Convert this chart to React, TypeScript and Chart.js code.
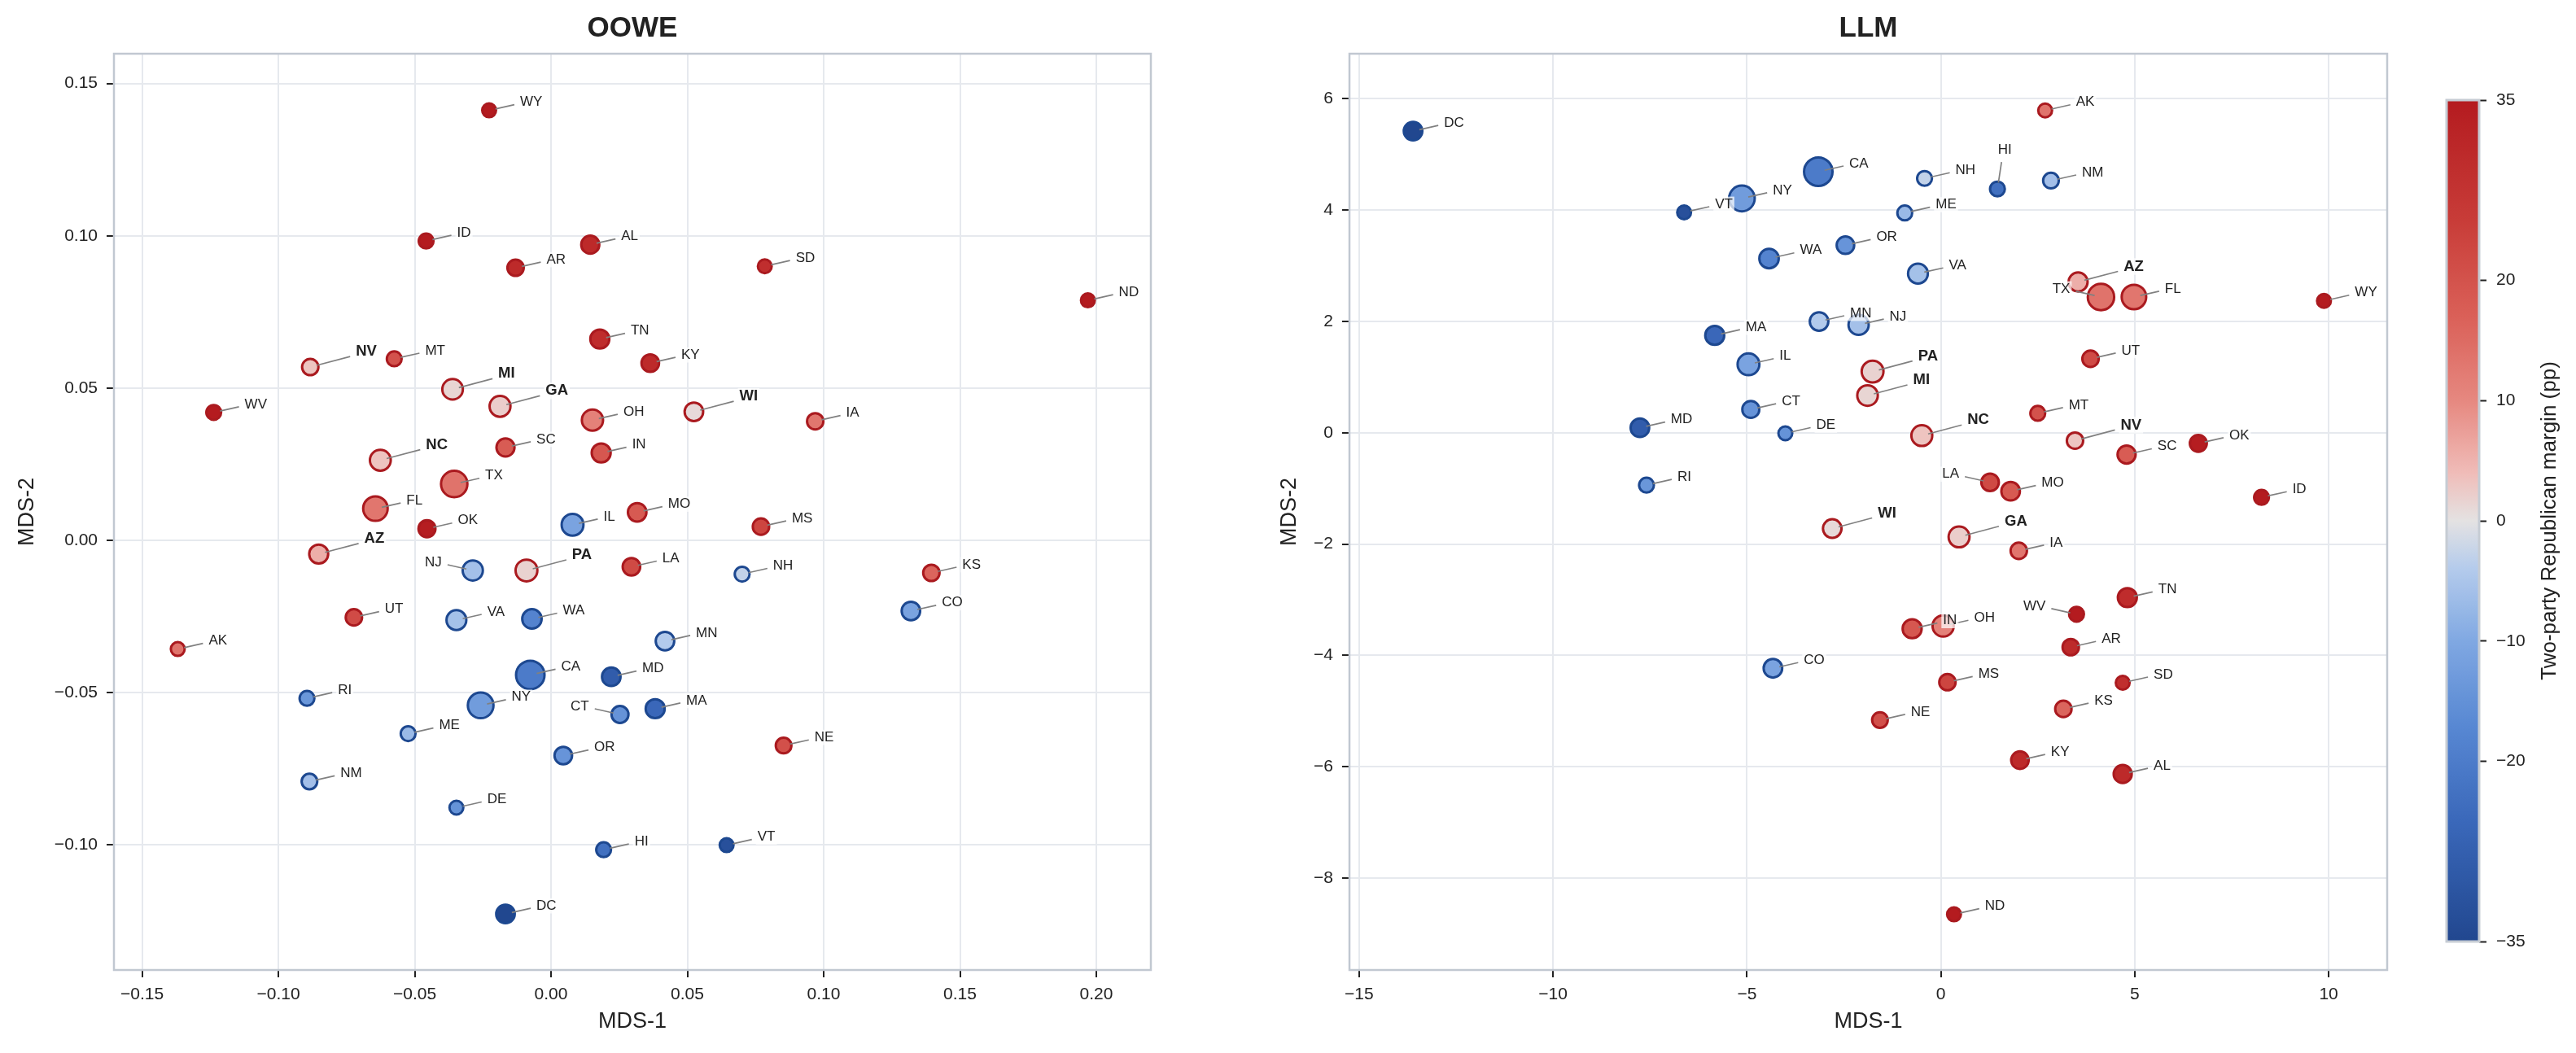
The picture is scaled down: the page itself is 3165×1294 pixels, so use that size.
import React, { useEffect, useRef } from 'react';
import { Chart, registerables } from 'chart.js';

Chart.register(...registerables);

// ---------------- DATA ----------------
const STATES = ['AL','AK','AZ','AR','CA','CO','CT','DE','DC','FL','GA','HI','ID','IL','IN','IA','KS','KY','LA','ME','MD','MA','MI','MN','MS','MO','MT','NE','NV','NH','NJ','NM','NY','NC','ND','OH','OK','OR','PA','RI','SC','SD','TN','TX','UT','VT','VA','WA','WV','WI','WY'];

const SWING = ['AZ','GA','MI','NC','NV','PA','WI'];

// Two-party Republican margin (pp)
const MARGIN = [30.5,13.5,5.6,30.6,-20.2,-11.0,-14.5,-14.7,-85.0,13.1,2.2,-23.1,36.5,-11.0,19.0,13.2,16.2,30.5,22.0,-7.0,-28.5,-25.2,1.4,-4.2,22.9,18.4,20.1,20.5,3.1,-2.8,-5.9,-6.0,-12.6,3.2,36.5,11.2,34.3,-14.3,1.7,-13.8,17.9,29.2,29.7,13.7,21.6,-32.3,-5.8,-18.2,41.9,0.9,45.8];

// marker size weight (electoral-vote-like scale)
const SIZE_WEIGHT = [9,3,11,6,54,10,7,3,10,30,16,4,4,19,11,6,6,8,8,4,10,11,15,10,6,10,4,5,6,4,14,5,36,16,3,17,7,8,19,4,9,3,11,40,6,3,13,12,4,10,3];

// OOWE embedding
const OOWE_X = [0.0144,-0.1369,-0.0852,-0.0130,-0.0076,0.1320,0.0253,-0.0347,-0.0167,-0.0644,-0.0187,0.0193,-0.0458,0.0079,0.0184,0.0969,0.1395,0.0364,0.0295,-0.0524,0.0221,0.0382,-0.0361,0.0418,0.0770,0.0316,-0.0575,0.0853,-0.0883,0.0701,-0.0287,-0.0886,-0.0258,-0.0626,0.1969,0.0152,-0.0455,0.0045,-0.0090,-0.0895,-0.0167,0.0784,0.0179,-0.0355,-0.0723,0.0644,-0.0347,-0.0070,-0.1237,0.0524,-0.0227];
const OOWE_Y = [0.0971,-0.0357,-0.0045,0.0895,-0.0442,-0.0232,-0.0572,-0.0878,-0.1227,0.0104,0.0440,-0.1016,0.0983,0.0051,0.0287,0.0391,-0.0107,0.0582,-0.0087,-0.0635,-0.0448,-0.0553,0.0496,-0.0331,0.0045,0.0092,0.0596,-0.0674,0.0569,-0.0111,-0.0099,-0.0792,-0.0542,0.0263,0.0788,0.0395,0.0038,-0.0707,-0.0099,-0.0519,0.0305,0.0900,0.0661,0.0185,-0.0253,-0.1001,-0.0262,-0.0258,0.0420,0.0422,0.1412];

// LLM embedding
const LLM_X = [4.69,2.69,3.54,3.35,-3.16,-4.33,-4.90,-4.01,-13.61,4.98,0.47,1.46,8.27,-4.96,-0.74,2.01,3.16,2.04,1.27,-0.93,-7.76,-5.83,-1.89,-3.14,0.17,1.80,2.50,-1.57,3.46,-0.42,-2.12,2.84,-5.13,-0.49,0.34,0.06,6.64,-2.46,-1.76,-7.59,4.79,4.69,4.81,4.13,3.86,-6.62,-0.59,-4.43,3.50,-2.80,9.88];
const LLM_Y = [-6.13,5.79,2.71,-3.85,4.69,-4.23,0.42,-0.01,5.42,2.44,-1.87,4.38,-1.16,1.23,-3.52,-2.12,-4.96,-5.88,-0.89,3.95,0.09,1.75,0.67,2.00,-4.48,-1.05,0.35,-5.16,-0.14,4.57,1.94,4.53,4.21,-0.05,-8.65,-3.47,-0.19,3.37,1.10,-0.94,-0.39,-4.49,-2.96,2.44,1.33,3.96,2.86,3.13,-3.26,-1.72,2.37];

const OOWE_XTICKS = [-0.15,-0.10,-0.05,0.00,0.05,0.10,0.15,0.20];
const OOWE_YTICKS = [-0.10,-0.05,0.00,0.05,0.10,0.15];
const LLM_XTICKS = [-15,-10,-5,0,5,10];
const LLM_YTICKS = [-8,-6,-4,-2,0,2,4,6];
const CBAR_TICKS = [-35,-20,-10,0,10,20,35];

// label placement modes per panel (R right, L left, U up)
const OOWE_LABEL_MODE: Record<string,string> = { NJ: 'L', CT: 'L' };
const LLM_LABEL_MODE: Record<string,string> = { TX: 'L', LA: 'L', WV: 'L', HI: 'U' };

// ---------------- STYLE ----------------
const FONT = '"Liberation Sans", Arial, Helvetica, sans-serif';
const TEXT = '#222222';
const GRID = '#e6e9ee';
const SPINE = '#c1c8d1';
const RED_EDGE = '#aa1a1f';
const BLUE_EDGE = '#1d4890';

const CMAP: [number, number[]][] = [
  [-35, [33, 71, 143]],
  [-25, [58, 104, 186]],
  [-17, [88, 136, 211]],
  [-10, [128, 168, 226]],
  [-4, [180, 203, 236]],
  [0, [228, 226, 226]],
  [4, [240, 188, 184]],
  [10, [230, 136, 128]],
  [17, [218, 96, 88]],
  [25, [200, 60, 56]],
  [35, [180, 27, 31]],
];

function cmap(m: number): string {
  const v = Math.max(-35, Math.min(35, m));
  for (let i = 0; i < CMAP.length - 1; i++) {
    const [a, ca] = CMAP[i];
    const [b, cb] = CMAP[i + 1];
    if (v >= a && v <= b) {
      const t = (v - a) / (b - a);
      const c = ca.map((x, k) => Math.round(x + (cb[k] - x) * t));
      return `rgb(${c[0]},${c[1]},${c[2]})`;
    }
  }
  return 'rgb(180,27,31)';
}

function markerRadius(w: number): number {
  const d = Math.sqrt(78 + 185.8 * Math.sqrt(w));
  return (d - 3) / 2;
}

function fmtTick(v: number, dec: number): string {
  if (Math.abs(v) < 1e-9) return (0).toFixed(dec);
  const s = Math.abs(v).toFixed(dec);
  return v < 0 ? '\u2212' + s : s;
}

const frameBox = (color: string, width: number) => ({
  id: 'frameBox',
  beforeDatasetsDraw(chart: any) {
    const { ctx, chartArea: a } = chart;
    ctx.save();
    ctx.strokeStyle = color;
    ctx.lineWidth = width;
    ctx.strokeRect(a.left, a.top, a.right - a.left, a.bottom - a.top);
    ctx.restore();
  },
});

function labelPlugin(xs: number[], ys: number[], modes: Record<string, string>) {
  return {
    id: 'stateLabels',
    afterDatasetsDraw(chart: any) {
      const { ctx } = chart;
      const sx = chart.scales.x;
      const sy = chart.scales.y;
      const items = STATES.map((s, i) => {
        const px = sx.getPixelForValue(xs[i]);
        const py = sy.getPixelForValue(ys[i]);
        const swing = SWING.includes(s);
        const mode = modes[s] || (swing ? 'S' : 'R');
        let tx = 0, ty = 0, lx = 0, ly = 0, align: CanvasTextAlign = 'left';
        if (mode === 'R') { tx = 38; ty = -10; lx = 31; ly = -7; }
        else if (mode === 'S') { tx = 56; ty = -19; lx = 49; ly = -13; }
        else if (mode === 'L') { tx = -38; ty = -10; lx = -31; ly = -7; align = 'right'; }
        else { tx = 9; ty = -48; lx = 5; ly = -33; align = 'center'; }
        return { s, px, py, swing, tx, ty, lx, ly, align };
      });
      ctx.save();
      ctx.strokeStyle = '#808080';
      ctx.lineWidth = 1.7;
      items.forEach((it) => {
        const len = Math.hypot(it.lx, it.ly);
        const sxp = it.px + (it.lx / len) * 8;
        const syp = it.py + (it.ly / len) * 8;
        ctx.beginPath();
        ctx.moveTo(sxp, syp);
        ctx.lineTo(it.px + it.lx, it.py + it.ly);
        ctx.stroke();
      });
      items.forEach((it) => {
        const fs = it.swing ? 18.5 : 17;
        ctx.font = `${it.swing ? 'bold ' : ''}${fs}px ${FONT}`;
        const w = ctx.measureText(it.s).width;
        const x = it.px + it.tx;
        const y = it.py + it.ty;
        let left = x;
        if (it.align === 'right') left = x - w;
        else if (it.align === 'center') left = x - w / 2;
        ctx.fillStyle = 'rgba(255,255,255,0.72)';
        ctx.fillRect(left - 2, y - fs * 0.55, w + 4, fs * 1.1);
        ctx.fillStyle = TEXT;
        ctx.textAlign = it.align;
        ctx.textBaseline = 'middle';
        ctx.fillText(it.s, x, y);
      });
      ctx.restore();
    },
  };
}

function scatterConfig(p: {
  title: string; xs: number[]; ys: number[]; xmin: number; xmax: number; ymin: number; ymax: number;
  xticks: number[]; yticks: number[]; dec: number; padRight: number; yTitlePad: number; modes: Record<string, string>;
}): any {
  return {
    type: 'scatter',
    data: {
      datasets: [{
        data: p.xs.map((x, i) => ({ x, y: p.ys[i] })),
        pointBackgroundColor: MARGIN.map(cmap),
        pointBorderColor: MARGIN.map((m) => (m >= 0 ? RED_EDGE : BLUE_EDGE)),
        pointBorderWidth: 3,
        pointRadius: SIZE_WEIGHT.map(markerRadius),
        pointHoverRadius: SIZE_WEIGHT.map(markerRadius),
        clip: false,
      }],
    },
    options: {
      responsive: false,
      animation: false,
      events: [],
      layout: { padding: { left: 0, right: p.padRight, top: 0, bottom: 0 } },
      plugins: {
        legend: { display: false },
        tooltip: { enabled: false },
        title: {
          display: true,
          text: p.title,
          fullSize: false,
          color: TEXT,
          font: { family: FONT, size: 35, weight: 'bold', lineHeight: 1.2 },
          padding: { top: 14, bottom: 10 },
        },
      },
      scales: {
        x: {
          type: 'linear',
          min: p.xmin,
          max: p.xmax,
          afterBuildTicks: (sc: any) => { sc.ticks = p.xticks.map((v) => ({ value: v })); },
          afterFit: (sc: any) => { sc.height = 102; },
          grid: { color: GRID, lineWidth: 2, drawTicks: true, tickLength: 9, tickColor: TEXT, tickWidth: 2 },
          border: { display: false },
          ticks: {
            color: TEXT, font: { family: FONT, size: 21 }, padding: 9, maxRotation: 0, autoSkip: false,
            callback: (v: any) => fmtTick(Number(v), p.dec),
          },
          title: {
            display: true, text: 'MDS-1', color: TEXT,
            font: { family: FONT, size: 27, lineHeight: 1.2 }, padding: { top: 0, bottom: 22 },
          },
        },
        y: {
          type: 'linear',
          min: p.ymin,
          max: p.ymax,
          afterBuildTicks: (sc: any) => { sc.ticks = p.yticks.map((v) => ({ value: v })); },
          afterFit: (sc: any) => { sc.width = 140; },
          grid: { color: GRID, lineWidth: 2, drawTicks: true, tickLength: 9, tickColor: TEXT, tickWidth: 2 },
          border: { display: false },
          ticks: {
            color: TEXT, font: { family: FONT, size: 21 }, padding: 11, autoSkip: false,
            callback: (v: any) => fmtTick(Number(v), p.dec),
          },
          title: {
            display: true, text: 'MDS-2', color: TEXT,
            font: { family: FONT, size: 27, lineHeight: 1.2 }, padding: { top: p.yTitlePad, bottom: 0 },
          },
        },
      },
    },
    plugins: [frameBox(SPINE, 2.5), labelPlugin(p.xs, p.ys, p.modes)],
  };
}

function colorbarConfig(): any {
  const gradientFill = (c: any) => {
    const chart = c.chart;
    const area = chart.chartArea;
    if (!area) return cmap(0);
    const ys = chart.scales.y;
    const y0 = ys.getPixelForValue(-35);
    const y1 = ys.getPixelForValue(35);
    const g = chart.ctx.createLinearGradient(0, y0, 0, y1);
    for (let k = 0; k <= 70; k++) g.addColorStop(k / 70, cmap(-35 + k));
    return g;
  };
  return {
    type: 'bar',
    data: {
      labels: [''],
      datasets: [{
        data: [[-35, 35]],
        backgroundColor: gradientFill,
        borderWidth: 0,
        barPercentage: 1,
        categoryPercentage: 1,
      }],
    },
    options: {
      responsive: false,
      animation: false,
      events: [],
      layout: { padding: { left: 26, right: 0, top: 123, bottom: 137 } },
      plugins: { legend: { display: false }, tooltip: { enabled: false }, title: { display: false } },
      scales: {
        x: { display: false },
        y: {
          position: 'right',
          min: -35,
          max: 35,
          afterBuildTicks: (sc: any) => { sc.ticks = CBAR_TICKS.map((v) => ({ value: v })); },
          afterFit: (sc: any) => { sc.width = 119; },
          grid: { display: true, drawOnChartArea: false, drawTicks: true, tickLength: 9, tickColor: TEXT, tickWidth: 2 },
          border: { display: false },
          ticks: {
            color: TEXT, font: { family: FONT, size: 21 }, padding: 12, autoSkip: false,
            callback: (v: any) => fmtTick(Number(v), 0),
          },
        },
      },
    },
    plugins: [
      {
        id: 'cbFrame',
        afterDatasetsDraw(chart: any) {
          const { ctx, chartArea: a } = chart;
          ctx.save();
          ctx.strokeStyle = '#c6ccd4';
          ctx.lineWidth = 3;
          ctx.strokeRect(a.left, a.top, a.right - a.left, a.bottom - a.top);
          ctx.restore();
        },
        afterDraw(chart: any) {
          const { ctx, chartArea: a } = chart;
          ctx.save();
          ctx.translate(153, (a.top + a.bottom) / 2);
          ctx.rotate(-Math.PI / 2);
          ctx.font = `26px ${FONT}`;
          ctx.fillStyle = TEXT;
          ctx.textAlign = 'center';
          ctx.textBaseline = 'middle';
          ctx.fillText('Two-party Republican margin (pp)', 0, 0);
          ctx.restore();
        },
      },
    ],
  };
}

const W1 = 1518;
const W2 = 1462;
const W3 = 185;
const H = 1294;

export default function App() {
  const r1 = useRef<HTMLCanvasElement>(null);
  const r2 = useRef<HTMLCanvasElement>(null);
  const r3 = useRef<HTMLCanvasElement>(null);

  useEffect(() => {
    document.body.style.margin = '0';
    document.body.style.overflow = 'hidden';
    document.body.style.background = '#ffffff';
    const c1 = new Chart(r1.current!, scatterConfig({
      title: 'OOWE', xs: OOWE_X, ys: OOWE_Y, xmin: -0.1603, xmax: 0.2200, ymin: -0.1411, ymax: 0.1598,
      xticks: OOWE_XTICKS, yticks: OOWE_YTICKS, dec: 2, padRight: W1 - 1414, yTitlePad: 17, modes: OOWE_LABEL_MODE,
    }));
    const c2 = new Chart(r2.current!, scatterConfig({
      title: 'LLM', xs: LLM_X, ys: LLM_Y, xmin: -15.25, xmax: 11.51, ymin: -9.65, ymax: 6.81,
      xticks: LLM_XTICKS, yticks: LLM_YTICKS, dec: 0, padRight: 47, yTitlePad: 50, modes: LLM_LABEL_MODE,
    }));
    const c3 = new Chart(r3.current!, colorbarConfig());
    return () => { c1.destroy(); c2.destroy(); c3.destroy(); };
  }, []);

  const cv = (w: number) => ({ width: w, height: H, display: 'block' as const });
  return (
    <div style={{ position: 'relative', width: 3165, height: H, background: '#ffffff', overflow: 'hidden' }}>
      <div style={{ position: 'absolute', left: 0, top: 0, width: W1, height: H }}>
        <canvas ref={r1} width={W1} height={H} style={cv(W1)} />
      </div>
      <div style={{ position: 'absolute', left: W1, top: 0, width: W2, height: H }}>
        <canvas ref={r2} width={W2} height={H} style={cv(W2)} />
      </div>
      <div style={{ position: 'absolute', left: W1 + W2, top: 0, width: W3, height: H }}>
        <canvas ref={r3} width={W3} height={H} style={cv(W3)} />
      </div>
    </div>
  );
}
